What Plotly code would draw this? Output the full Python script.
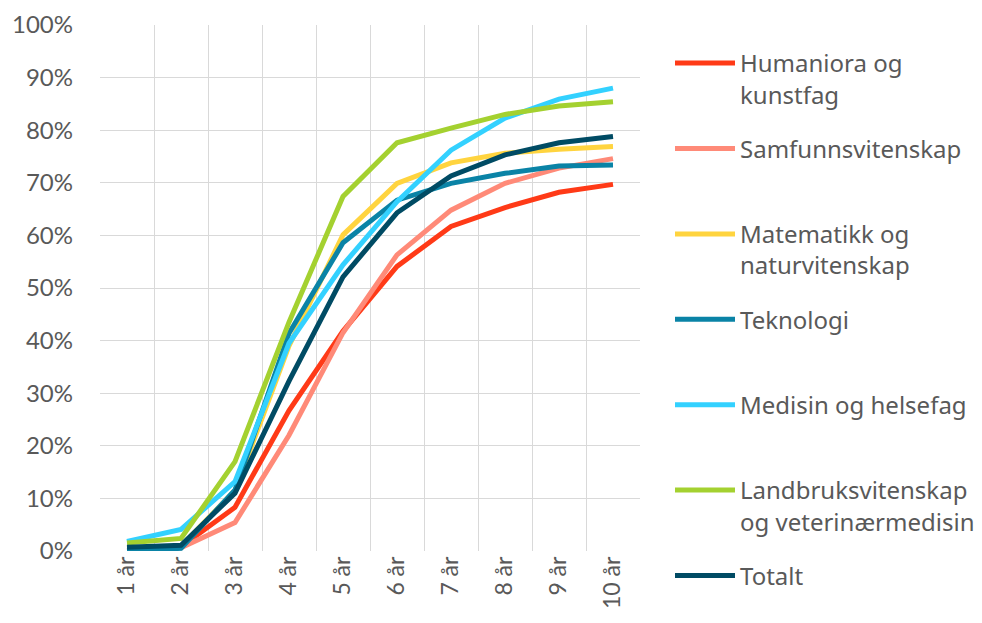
import plotly.graph_objects as go

years = ["1 år", "2 år", "3 år", "4 år", "5 år", "6 år", "7 år", "8 år", "9 år", "10 år"]

humaniora = [0.6, 0.8, 8.3, 26.7, 41.8, 54.1, 61.7, 65.3, 68.2, 69.7]
samfunn = [0.4, 0.6, 5.4, 22.0, 41.5, 56.3, 64.8, 69.9, 72.8, 74.6]
matematikk = [0.5, 0.9, 11.5, 39.0, 60.1, 69.9, 73.8, 75.6, 76.4, 76.9]
teknologi = [0.1, 0.5, 11.6, 41.4, 58.6, 66.7, 69.9, 71.8, 73.2, 73.4]
medisin = [1.8, 4.1, 13.2, 39.5, 54.4, 66.4, 76.2, 82.3, 85.9, 88.0]
landbruk = [1.5, 2.4, 17.0, 43.5, 67.4, 77.6, 80.4, 83.0, 84.6, 85.4]
totalt = [0.7, 1.1, 11.0, 32.3, 52.1, 64.3, 71.3, 75.3, 77.6, 78.8]

series = [
    ("Humaniora og<br>kunstfag", humaniora, "#FF3A17"),
    ("Samfunnsvitenskap<br> ", samfunn, "#FF8A78"),
    ("Matematikk og<br>naturvitenskap", matematikk, "#FFD43F"),
    ("Teknologi<br> ", teknologi, "#0A83A6"),
    ("Medisin og helsefag<br> ", medisin, "#33D1FF"),
    ("Landbruksvitenskap<br>og veterinærmedisin", landbruk, "#A4D130"),
    ("Totalt", totalt, "#004B64"),
]

fig = go.Figure()
for i, (name, vals, color) in enumerate(series):
    fig.add_trace(go.Scatter(
        x=years, y=[v / 100 for v in vals], name=name, mode="lines",
        line=dict(color=color, width=5),
        legendgroup=str(i),
    ))

W, H = 974, 615
fig.update_layout(
    width=W, height=H,
    margin=dict(l=92, r=342, t=17, b=72, autoexpand=False),
    plot_bgcolor="white", paper_bgcolor="white",
    font=dict(family="Lato, sans-serif", color="#595959", size=24),
    showlegend=True,
    legend=dict(
        xref="container", yref="container",
        x=662 / W, xanchor="left", y=1 - 33 / H, yanchor="top",
        font=dict(family="Noto Sans, sans-serif", size=24, color="#595959"),
        valign="top", tracegroupgap=20, itemwidth=60, maxheight=H,
        bgcolor="rgba(0,0,0,0)",
    ),
)
fig.update_xaxes(
    type="category", range=[-0.5, 9.5], tickson="boundaries",
    showgrid=True, gridcolor="#D9D9D9", gridwidth=1.3,
    tickangle=-90, ticks="", showline=False, zeroline=False, automargin=False,
    tickfont=dict(size=23, color="#595959"),
)
fig.update_yaxes(
    range=[0, 1], dtick=0.1, tickformat=".0%",
    showgrid=True, gridcolor="#D9D9D9", gridwidth=1.3,
    zeroline=False, showline=False, ticklabelstandoff=26, automargin=False,
    tickfont=dict(size=24, color="#595959"),
)

fig.write_html("out.html")
